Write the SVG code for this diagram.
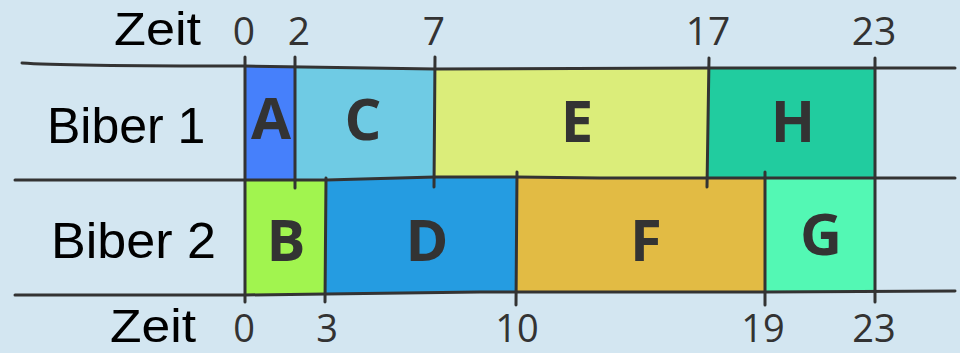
<svg xmlns="http://www.w3.org/2000/svg" width="960" height="353" viewBox="0 0 960 353">
<style>
.lbl{font-family:"Liberation Sans",Arial,sans-serif;font-size:50px;fill:#000}
.zt{font-family:"Liberation Sans",Arial,sans-serif;font-size:47px;fill:#000}
.num{font-family:"Open Sans","DejaVu Sans",sans-serif;font-size:39px;fill:#333;text-anchor:middle}
.numb{font-family:"Open Sans","DejaVu Sans",sans-serif;font-size:38px;fill:#333;text-anchor:middle}
.let{font-family:"Open Sans","DejaVu Sans",sans-serif;font-weight:bold;font-size:58px;fill:#333;text-anchor:middle}
.ln{fill:none;stroke:#333;stroke-width:3;stroke-linecap:round;stroke-linejoin:round}
</style>
<rect width="960" height="353" fill="#d3e6f1"/>
<g id="labels">
<text class="zt" x="114" y="45" textLength="87" lengthAdjust="spacingAndGlyphs">Zeit</text>
<text class="lbl" x="47" y="143">Biber 1</text>
<text class="lbl" x="51" y="258" textLength="165" lengthAdjust="spacingAndGlyphs">Biber 2</text>
<text class="zt" x="110" y="342" textLength="86" lengthAdjust="spacingAndGlyphs">Zeit</text>
<text class="num" x="244" y="45">0</text>
<text class="num" x="299" y="45">2</text>
<text class="num" x="434" y="45">7</text>
<text class="num" x="708" y="45">17</text>
<text class="num" x="874" y="45">23</text>
<text class="numb" x="244" y="342">0</text>
<text class="numb" x="327" y="342">3</text>
<text class="numb" x="517" y="342">10</text>
<text class="numb" x="763" y="342">19</text>
<text class="numb" x="874" y="342">23</text>
</g>
<g id="task-A"><path d="M245,66 L295,66 L295,179 L245,180 Z" fill="#4680fb"/><text class="let" x="271" y="139">A</text></g>
<g id="task-C"><path d="M295,66 L435,69 L435,178 L295,179 Z" fill="#6fcbe4"/><text class="let" x="363" y="140">C</text></g>
<g id="task-E"><path d="M435,69 L709,68 L707,178 L435,178 Z" fill="#dbed7a"/><text class="let" x="577" y="142">E</text></g>
<g id="task-H"><path d="M709,68 L875,68 L875,178 L707,178 Z" fill="#21cc9f"/><text class="let" x="793" y="142">H</text></g>
<g id="task-B"><path d="M245,180 L326,180 L325,294 L245,295 Z" fill="#a1f44f"/><text class="let" x="286" y="261">B</text></g>
<g id="task-D"><path d="M326,180 L435,177 L517,177 L516,292 L325,294 Z" fill="#259ce1"/><text class="let" x="427" y="261">D</text></g>
<g id="task-F"><path d="M517,177 L600,178 L765,178 L765,292 L516,292 Z" fill="#e2bb44"/><text class="let" x="646" y="261">F</text></g>
<g id="task-G"><path d="M765,178 L875,178 L875,292 L765,292 Z" fill="#53f8b4"/><text class="let" x="821" y="255">G</text></g>
<g id="connectors">
<path class="ln" d="M22,63 Q60,66 245,66 L435,69 L709,68 L955,68"/>
<path class="ln" d="M15,180 L326,180 L435,177 L517,177 L600,178 L955,178"/>
<path class="ln" d="M15,295 L245,295 L326,294 L480,292 L765,292 L955,291"/>
<path class="ln" d="M245,57 L245,302"/>
<path class="ln" d="M295,57 L295,188"/>
<path class="ln" d="M435,57 L434,187"/>
<path class="ln" d="M709,58 L707,187"/>
<path class="ln" d="M875,58 L875,302"/>
<path class="ln" d="M326,178 L325,302"/>
<path class="ln" d="M517,172 L516,305"/>
<path class="ln" d="M765,172 L765,305"/>
</g>
</svg>
